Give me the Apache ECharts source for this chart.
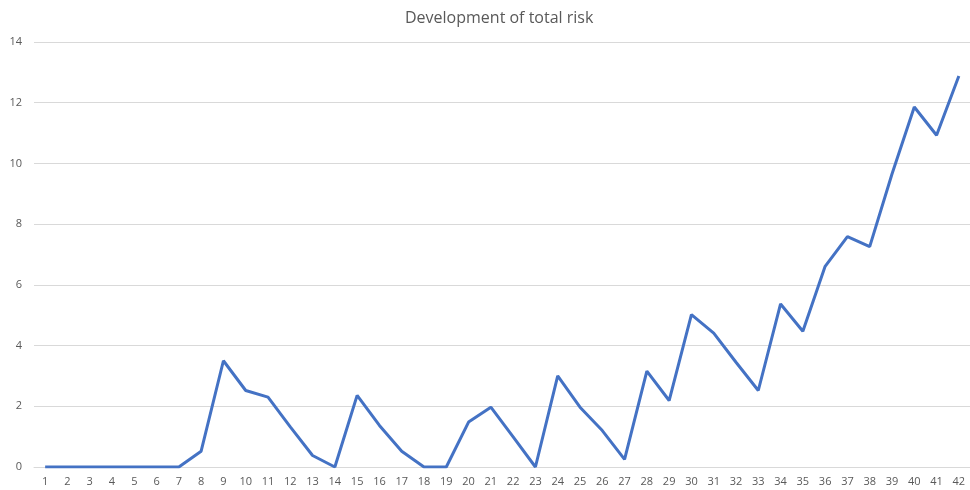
<!DOCTYPE html>
<html>
<head>
<meta charset="utf-8">
<script src="https://cdn.jsdelivr.net/npm/echarts@6/dist/echarts.min.js"></script>
<style>
  html, body { margin: 0; padding: 0; background: #fff; }
  #chart { width: 970px; height: 490px; }
</style>
</head>
<body>
<div id="chart"></div>
<script>
// categories 1..42
const periods = ['1','2','3','4','5','6','7','8','9','10','11','12','13','14','15','16','17','18','19','20','21',
  '22','23','24','25','26','27','28','29','30','31','32','33','34','35','36','37','38','39','40','41','42'];
// total risk
const totalRisk = [0, 0, 0, 0, 0, 0, 0, 0.52, 3.5, 2.52, 2.3, 1.32, 0.38, 0, 2.36, 1.37, 0.52, 0, 0, 1.48, 1.97,
  0.99, 0, 3.0, 1.97, 1.2, 0.25, 3.16, 2.19, 5.02, 4.41, 3.45, 2.52, 5.37, 4.47, 6.61, 7.59, 7.26, 9.65, 11.86, 10.93, 12.88];

const chart = echarts.init(document.getElementById('chart'));
chart.setOption({
  animation: false,
  title: {
    text: 'Development of total risk',
    left: 400,
    top: 5,
    textStyle: { fontFamily: 'Open Sans', fontWeight: 'normal', fontSize: 16, color: '#595959' }
  },
  grid: { left: 34, right: 0, top: 42, bottom: 23, outerBoundsMode: 'none' },
  xAxis: {
    type: 'category',
    data: periods,
    boundaryGap: true,
    axisLine: { lineStyle: { color: '#d9d9d9' } },
    axisTick: { show: false },
    axisLabel: { color: '#595959', fontSize: 11, fontFamily: 'Open Sans', interval: 0, margin: 9 }
  },
  yAxis: {
    type: 'value',
    min: 0,
    max: 14,
    interval: 2,
    axisLine: { show: false },
    axisTick: { show: false },
    splitLine: { lineStyle: { color: '#d9d9d9' } },
    axisLabel: { color: '#595959', fontSize: 11, fontFamily: 'Open Sans', margin: 12 }
  },
  series: [{
    type: 'line',
    data: totalRisk,
    showSymbol: false,
    lineStyle: { color: '#4472C4', width: 3 },
    itemStyle: { color: '#4472C4' }
  }]
});
</script>
</body>
</html>
